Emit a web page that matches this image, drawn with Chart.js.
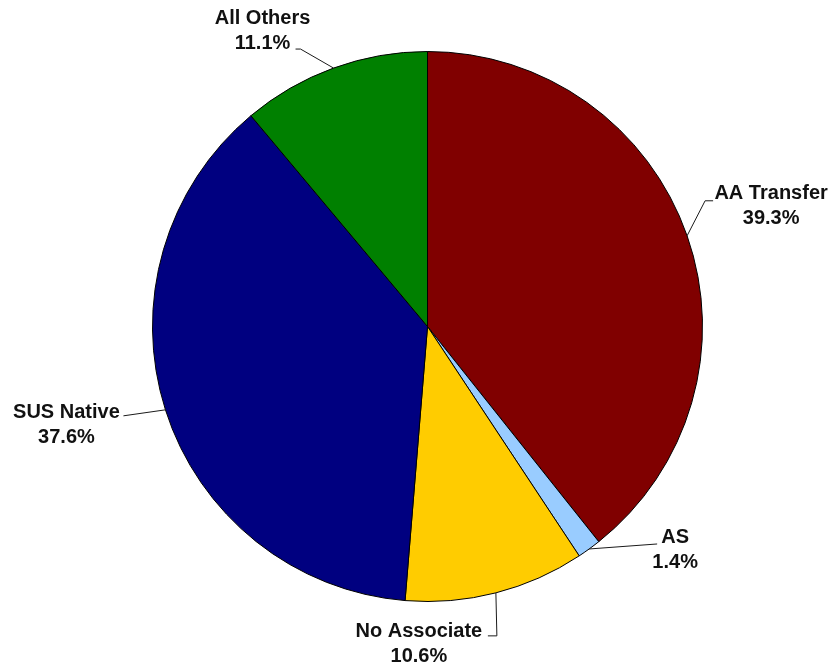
<!DOCTYPE html>
<html>
<head>
<meta charset="utf-8">
<title>Pie chart</title>
<script src="https://cdn.jsdelivr.net/npm/chart.js@4"></script>
<style>
  html, body { margin: 0; padding: 0; background: #fff; }
  #wrap { width: 835px; height: 664px; }
</style>
</head>
<body>
<div id="wrap"><canvas id="pie" width="835" height="664"></canvas></div>
<script>
// Slices, clockwise from 12 o'clock
const categories = ['AA Transfer', 'AS', 'No Associate', 'SUS Native', 'All Others'];
const shares = [39.3, 1.4, 10.6, 37.6, 11.1];
const sliceColors = ['#800000', '#99CCFF', '#FFCC00', '#000080', '#008000'];

// Where each label sits relative to the point where its leader touches the rim:
// text = centre x / first baseline, line = leader vertices after the rim point
const labelLayout = [
    { text: [84, -37], line: [[18, -35], [26, -35]] },
    { text: [86, -6],  line: [[68, -5]] },
    { text: [-77, 44], line: [[1, 43], [-8, 43]] },
    { text: [-99, 8],  line: [[-42, 6]] },
    { text: [-71, -44], line: [[-33, -19], [-38, -19]] }
];

const calloutLabels = {
    id: 'calloutLabels',
    afterDatasetsDraw(chart) {
        const ctx = chart.ctx;
        const arcs = chart.getDatasetMeta(0).data;
        ctx.save();
        arcs.forEach((arc, i) => {
            const p = arc.getProps(['x', 'y', 'startAngle', 'endAngle', 'outerRadius'], true);
            const mid = (p.startAngle + p.endAngle) / 2;
            const ex = p.x + Math.cos(mid) * p.outerRadius;
            const ey = p.y + Math.sin(mid) * p.outerRadius;
            const lay = labelLayout[i];

            // leader line
            ctx.strokeStyle = '#1a1a1a';
            ctx.lineWidth = 1;
            ctx.beginPath();
            ctx.moveTo(ex, ey);
            lay.line.forEach(pt => ctx.lineTo(ex + pt[0], ey + pt[1]));
            ctx.stroke();

            // two-line label: name, then share
            ctx.fillStyle = '#111';
            ctx.font = 'bold 20px "Liberation Sans", Arial, sans-serif';
            ctx.textAlign = 'center';
            ctx.textBaseline = 'alphabetic';
            const tx = ex + lay.text[0];
            const ty = ey + lay.text[1];
            ctx.fillText(categories[i], tx, ty);
            ctx.fillText(shares[i].toFixed(1) + '%', tx, ty + 25);
        });
        ctx.restore();
    }
};

new Chart(document.getElementById('pie'), {
    type: 'pie',
    data: {
        labels: categories,
        datasets: [{
            data: shares,
            backgroundColor: sliceColors,
            borderColor: '#000',
            borderWidth: 1
        }]
    },
    options: {
        responsive: false,
        animation: false,
        events: [],
        layout: {
            padding: { top: 51, bottom: 62, left: 152, right: 132 }
        },
        plugins: {
            legend: { display: false },
            tooltip: { enabled: false }
        }
    },
    plugins: [calloutLabels]
});
</script>
</body>
</html>
